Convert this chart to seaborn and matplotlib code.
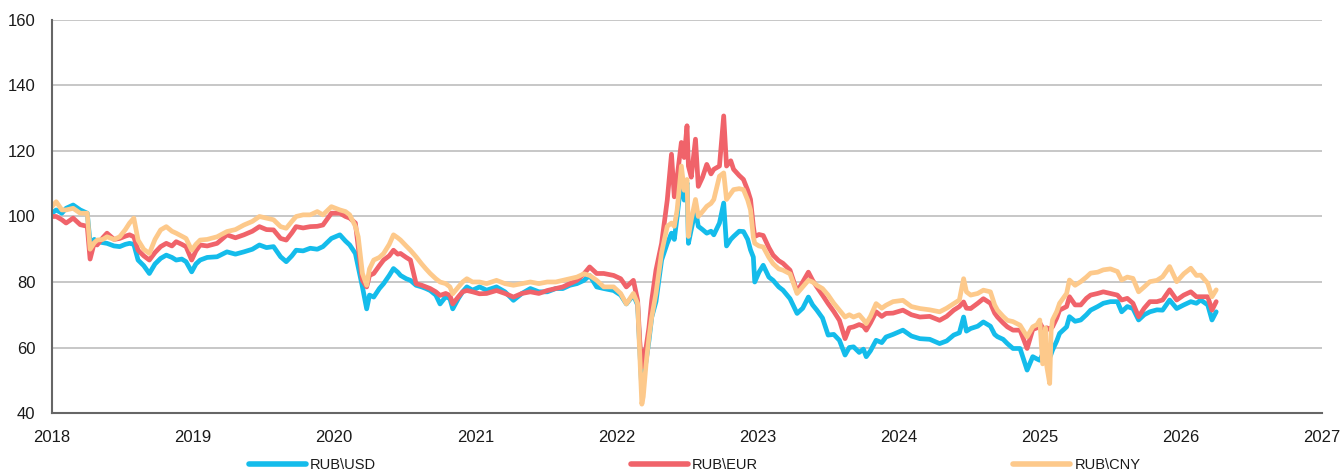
import pandas as pd
import matplotlib
matplotlib.use('Agg')
import matplotlib.pyplot as plt
from matplotlib import font_manager
import seaborn as sns

# dates as decimal years
dates = [2018.00, 2018.03, 2018.07, 2018.10, 2018.15, 2018.20, 2018.25, 2018.27, 2018.30, 2018.32,
         2018.36, 2018.39, 2018.44, 2018.48, 2018.52, 2018.55, 2018.58, 2018.61, 2018.65, 2018.69,
         2018.73, 2018.77, 2018.81, 2018.85, 2018.88, 2018.92, 2018.95, 2018.99, 2019.02, 2019.05,
         2019.10, 2019.17, 2019.24, 2019.30, 2019.36, 2019.42, 2019.47, 2019.52, 2019.57, 2019.62,
         2019.66, 2019.70, 2019.73, 2019.78, 2019.83, 2019.88, 2019.92, 2019.98, 2020.04, 2020.08,
         2020.11, 2020.15, 2020.17, 2020.20, 2020.23, 2020.25, 2020.28, 2020.32, 2020.35, 2020.39,
         2020.42, 2020.45, 2020.47, 2020.51, 2020.54, 2020.58, 2020.62, 2020.65, 2020.68, 2020.72,
         2020.75, 2020.79, 2020.82, 2020.84, 2020.88, 2020.91, 2020.94, 2020.98, 2021.03, 2021.08,
         2021.15, 2021.21, 2021.27, 2021.33, 2021.39, 2021.45, 2021.51, 2021.57, 2021.62, 2021.67,
         2021.72, 2021.77, 2021.81, 2021.86, 2021.91, 2021.98, 2022.03, 2022.07, 2022.12, 2022.15,
         2022.165, 2022.18, 2022.19, 2022.21, 2022.23, 2022.25, 2022.28, 2022.32, 2022.36, 2022.39,
         2022.41, 2022.43, 2022.46, 2022.48, 2022.50, 2022.51, 2022.53, 2022.56, 2022.58, 2022.61,
         2022.64, 2022.67, 2022.69, 2022.73, 2022.76, 2022.78, 2022.81, 2022.83, 2022.87, 2022.90,
         2022.93, 2022.95, 2022.97, 2022.98, 2023.01, 2023.04, 2023.08, 2023.11, 2023.15, 2023.18,
         2023.23, 2023.28, 2023.32, 2023.36, 2023.39, 2023.42, 2023.46, 2023.50, 2023.54, 2023.58,
         2023.62, 2023.65, 2023.68, 2023.72, 2023.75, 2023.77, 2023.80, 2023.84, 2023.88, 2023.91,
         2023.96, 2024.03, 2024.09, 2024.15, 2024.22, 2024.29, 2024.34, 2024.39, 2024.43, 2024.46,
         2024.48, 2024.51, 2024.56, 2024.60, 2024.65, 2024.68, 2024.70, 2024.74, 2024.77, 2024.81,
         2024.86, 2024.91, 2024.95, 2024.98, 2025.00, 2025.02, 2025.04, 2025.05, 2025.07, 2025.08,
         2025.09, 2025.12, 2025.14, 2025.19, 2025.21, 2025.25, 2025.29, 2025.33, 2025.36, 2025.41,
         2025.45, 2025.50, 2025.55, 2025.58, 2025.62, 2025.66, 2025.70, 2025.74, 2025.78, 2025.83,
         2025.87, 2025.92, 2025.97, 2026.02, 2026.07, 2026.11, 2026.14, 2026.19, 2026.22, 2026.25]

rub_usd = [101, 102, 101, 102.5, 103.5, 102, 101, 92, 93, 92.3,
           92, 91.8, 91, 90.8, 91.5, 91.8, 91.5, 86.7, 85, 82.6,
           85.5, 87.2, 88.2, 87.5, 86.7, 87, 86.2, 83.1, 85.5, 86.7,
           87.5, 87.7, 89.2, 88.5, 89.2, 90, 91.3, 90.5, 90.8, 87.7,
           86.2, 88, 89.7, 89.5, 90.3, 90, 90.8, 93.3, 94.4, 92.5,
           91.3, 88.7, 84.6, 78.5, 71.8, 76, 75.4, 78, 79.5, 82,
           84.1, 83, 82, 81, 80.5, 79, 78.5, 78, 77.4, 76,
           73.3, 75.5, 74.9, 71.8, 75, 77, 78.5, 77.5, 78.5, 77.5,
           78.5, 77, 74.4, 76.5, 78, 77, 77, 78, 78, 79,
           79.5, 80.5, 82, 78.5, 78, 77.4, 76, 73.3, 76, 73,
           60, 46.8, 50, 56, 62, 69.3, 74, 86.7, 91.8, 94.9,
           93, 100, 111.3, 105, 110.3, 91.8, 96, 102, 97, 96,
           94.9, 95.5, 94.4, 98, 104.1, 91, 93, 93.9, 95.5, 95.4,
           93, 89.8, 87.6, 80, 83, 85.1, 81.5, 80.5, 78.5, 77.5,
           74.9, 70.4, 72, 75.4, 73, 71.4, 69, 63.8, 64, 62.2,
           57.7, 60, 60.2, 58.5, 59.5, 57.2, 59, 62.2, 61.5, 63.2,
           64, 65.3, 63.5, 62.7, 62.5, 61.2, 62, 63.8, 64.5, 69.3,
           65, 65.8, 66.5, 67.8, 66.5, 64, 63.3, 62.5, 61.2, 59.7,
           59.7, 53.1, 57.2, 56.5, 56.1, 58, 57, 57.5, 57, 58,
           59.2, 62, 64.3, 66.3, 69.4, 68, 68.4, 70, 71.4, 72.5,
           73.5, 74, 74, 70.9, 72.5, 71.9, 68.4, 70, 70.9, 71.5,
           71.4, 74.5, 71.9, 73, 74, 73.5, 74.5, 73, 68.4, 70.9]

rub_eur = [100, 100, 99, 98, 99.5, 97.5, 97, 87, 92, 91.3,
           93.5, 94.9, 93, 93.3, 94, 94.4, 93.8, 89.7, 88, 86.7,
           89, 90.8, 91.8, 91, 92.3, 91.5, 90.8, 86.7, 89.5, 91.3,
           91, 91.8, 94.4, 93.5, 94.4, 95.5, 96.9, 96, 95.9, 93.3,
           92.8, 95, 96.9, 96.5, 96.9, 97, 97.4, 101, 101, 100,
           99.5, 98, 90.8, 80.5, 78.5, 82, 82.6, 85, 86.7, 88,
           89.7, 88.5, 88.7, 87.5, 86.7, 79.5, 79, 78.5, 78, 77,
           75.9, 76.5, 75.9, 73.3, 75.5, 77, 77.4, 77, 76.4, 76.5,
           77.4, 76.5, 75.4, 76.5, 77, 76.5, 77.4, 78, 78.5, 79.5,
           80.5, 82.5, 84.6, 82.6, 82.6, 82, 81, 78.5, 80.5, 74.4,
           62, 54, 58, 60, 66, 74.4, 83.6, 91.8, 105, 119,
           106, 112, 122.6, 118, 127.7, 115.4, 112, 123.6, 109.2, 112,
           115.9, 113, 114.4, 115.4, 130.7, 115.4, 117, 114.4, 112.5, 111.3,
           108, 105.2, 97, 93.9, 94.5, 94.2, 90.5, 88.2, 86.5, 85.7,
           83.6, 77, 80, 83, 80.5, 78.5, 76, 73.4, 71, 68.3,
           62.7, 66, 66.3, 67, 66.5, 65.3, 67.5, 70.9, 69.5, 70.4,
           70.5, 71.4, 70, 69.3, 69.5, 68.3, 69.5, 71.4, 72.5, 73.9,
           72, 71.9, 73.5, 74.9, 73.5, 70.5, 69.3, 67.5, 66.3, 65.3,
           65.3, 59.7, 65.5, 66, 67.5, 66, 65.5, 66, 65.5, 66,
           66.3, 69, 71.4, 72.5, 75.5, 73, 73, 75, 76, 76.5,
           77, 76.5, 76, 74.5, 75, 73.5, 69.4, 72, 74, 74,
           74.5, 77.6, 74.5, 76, 77, 75.5, 75.5, 75.5, 71.4, 74]

rub_cny = [103, 104.5, 102, 102, 102.5, 101, 101, 90, 92, 92.8,
           93, 93.8, 93, 93.8, 96, 98, 99.5, 92.8, 90, 88.7,
           93, 95.9, 96.9, 95.5, 94.9, 94, 93.3, 89.7, 91.5, 92.8,
           93, 93.8, 95.4, 96, 97.4, 98.5, 100, 99.5, 99, 96.9,
           96.4, 98.5, 100, 100.5, 100.5, 101.5, 100.5, 103, 102, 101.5,
           100.5, 97, 93.8, 82.6, 79, 84, 86.7, 87.5, 88.7, 91.5,
           94.4, 93.5, 92.8, 91, 89.7, 87.7, 85.5, 84, 82.6, 81,
           80, 79.5, 78.5, 76.4, 78.5, 80, 81, 80, 80, 79.5,
           80.5, 79.5, 79, 79.5, 80, 79.5, 80, 80, 80.5, 81,
           81.5, 82.5, 82, 80.5, 78.5, 78.5, 76.5, 73.3, 76.5, 73.4,
           58, 42.7, 45, 55, 63, 69.3, 76.5, 89, 97, 98,
           97, 102, 115.4, 108, 111.3, 93.9, 99, 105.2, 100, 101.5,
           103.1, 104, 105.2, 112.3, 113.3, 105.2, 107, 108.2, 108.5, 108.2,
           105, 102, 93.7, 91.8, 91, 90.7, 87.5, 85.6, 84, 83.6,
           82.5, 76.5, 78.5, 80.5, 80, 79, 78, 76, 73.5, 71.4,
           69.3, 70, 69.3, 70, 68.5, 67.3, 69.5, 73.4, 72, 72.9,
           74, 74.4, 72.5, 71.9, 71.5, 70.9, 72, 73.4, 74.5, 81,
           77, 76, 76.5, 77.5, 77, 73, 71.4, 69.5, 68.3, 67.9,
           66.8, 63.3, 66.3, 67, 68.4, 55, 66, 54.1, 49, 65,
           68.4, 71, 73.5, 76.5, 80.6, 79, 80.1, 81.5, 82.7, 83,
           83.7, 84, 83.2, 80.6, 81.5, 81.1, 77, 78.5, 80.1, 80.5,
           81.6, 84.7, 80.1, 82.5, 84.2, 82, 82.1, 79.6, 75.5, 77.6]

series_names = ['RUB\\USD', 'RUB\\EUR', 'RUB\\CNY']
colors = ['#14BCEB', '#F0636A', '#FDC98B']

df = pd.DataFrame({'date': dates, series_names[0]: rub_usd,
                   series_names[1]: rub_eur, series_names[2]: rub_cny})
long_df = df.melt(id_vars='date', var_name='pair', value_name='rate')

sns.set_style('white')

# the original uses a narrow sans; take a narrow one if it is installed
installed = {f.name for f in font_manager.fontManager.ttflist}
if 'Liberation Sans Narrow' in installed:
    font, tick_size, leg_size = 'Liberation Sans Narrow', 13, 11
elif 'DejaVu Sans Condensed' in installed:
    font, tick_size, leg_size = 'DejaVu Sans Condensed', 12, 10.5
else:
    font, tick_size, leg_size = 'Liberation Sans', 12, 10.5
plt.rcParams['font.family'] = [font, 'DejaVu Sans']

fig = plt.figure(figsize=(13.43, 4.75), dpi=100)
ax = fig.add_axes([0.0387, 0.1305, 0.9457, 0.8275])

sns.lineplot(data=long_df, x='date', y='rate', hue='pair', hue_order=series_names,
             palette=dict(zip(series_names, colors)), linewidth=3.4, ax=ax, legend=False)

ax.set_xlim(2018, 2027)
ax.set_ylim(40, 160)
ax.set_xticks(range(2018, 2028))
ax.set_yticks(range(40, 161, 20))
ax.yaxis.grid(True, color='#BDBDBD', linewidth=1.2)
ax.set_axisbelow(True)
ax.set_xlabel('')
ax.set_ylabel('')
for side in ['top', 'right']:
    ax.spines[side].set_visible(False)
for side in ['left', 'bottom']:
    ax.spines[side].set_color('#666666')
    ax.spines[side].set_linewidth(1.5)
ax.tick_params(axis='both', labelsize=tick_size, colors='#222222', length=5, width=1.2,
               direction='out')
ax.tick_params(axis='x', pad=7)
ax.tick_params(axis='y', pad=7)
for t in ax.get_xticklabels() + ax.get_yticklabels():
    t.set_color('#1a1a1a')

# legend entries about 380 px apart, handle ~57 px
leg_px = leg_size * 100 / 72
handles = [plt.Line2D([], [], color=c, linewidth=4) for c in colors]
leg = ax.legend(handles, series_names, loc='upper center', bbox_to_anchor=(0.506, -0.115),
                ncol=3, frameon=False, fontsize=leg_size, handlelength=57 / leg_px,
                handletextpad=4 / leg_px, columnspacing=255 / leg_px,
                borderaxespad=0, borderpad=0)
for t in leg.get_texts():
    t.set_color('#1a1a1a')

fig.savefig('out.png', dpi=100)
